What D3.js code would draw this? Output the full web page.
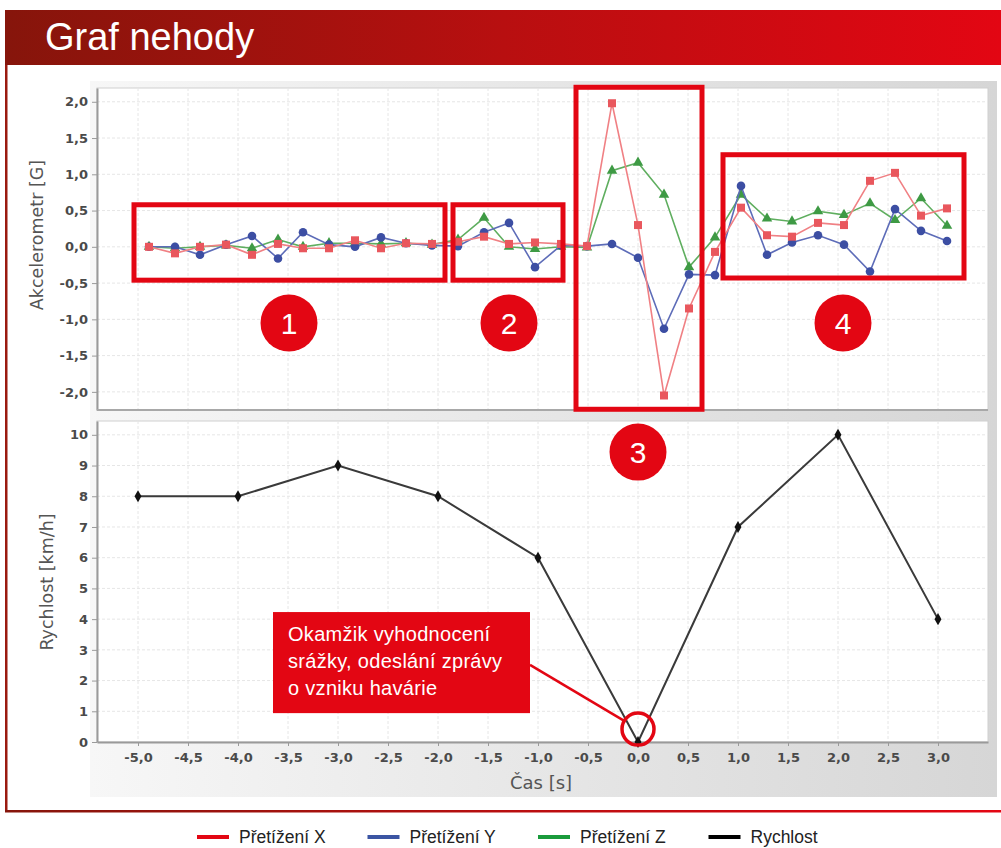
<!DOCTYPE html>
<html>
<head>
<meta charset="utf-8">
<script src="https://cdn.jsdelivr.net/npm/d3@7"></script>
<style>
body{margin:0;background:#fff;}
svg{display:block;}
</style>
</head>
<body>
<script>
// casy vzorku akcelerometru [s]
var accTime = [-4.89,-4.63,-4.38,-4.12,-3.86,-3.60,-3.35,-3.09,-2.83,-2.57,-2.32,-2.06,-1.80,-1.54,-1.29,-1.03,
    -0.77,-0.51,-0.26,0.00,0.26,0.51,0.77,1.03,1.29,1.54,1.80,2.06,2.32,2.57,2.83,3.09];
var accX = [0.00,-0.09,0.00,0.03,-0.11,0.04,-0.02,-0.02,0.09,-0.02,0.05,0.04,0.07,0.14,0.04,0.06,
    0.04,0.01,1.98,0.30,-2.05,-0.85,-0.07,0.54,0.16,0.14,0.33,0.30,0.91,1.02,0.43,0.53];
var accY = [0.00,0.00,-0.11,0.03,0.15,-0.16,0.20,0.03,0.00,0.13,0.05,0.02,0.01,0.20,0.33,-0.28,
    0.02,0.01,0.04,-0.15,-1.13,-0.38,-0.39,0.84,-0.11,0.06,0.16,0.03,-0.34,0.52,0.22,0.08];
var accZ = [0.00,-0.02,0.00,0.02,-0.02,0.10,0.00,0.05,0.05,0.04,0.05,0.03,0.10,0.40,0.00,-0.03,
    0.00,-0.01,1.05,1.16,0.72,-0.28,0.13,0.72,0.39,0.35,0.49,0.44,0.60,0.37,0.67,0.29];

var speedTime = [-5,-4,-3,-2,-1,0,1,2,3];
var speedValue = [8,8,9,8,6,0,7,10,4];

var timeTicks = [-5,-4.5,-4,-3.5,-3,-2.5,-2,-1.5,-1,-0.5,0,0.5,1,1.5,2,2.5,3];
var accTicks = [-2,-1.5,-1,-0.5,0,0.5,1,1.5,2];
var speedTicks = [0,1,2,3,4,5,6,7,8,9,10];

var legendNames = ["Přetížení X","Přetížení Y","Přetížení Z","Rychlost"];
var legendColors = ["#e30613","#3b55a3","#1a9b3c","#000000"];

// oznacene useky (v jednotkach grafu)
var zoneNames = ["1","2","3","4"];
var zoneFrom = [-5.04,-1.85,-0.62,0.85];
var zoneTo = [-1.93,-0.75,0.64,3.26];
var zoneTop = [0.58,0.58,2.20,1.27];
var zoneBottom = [-0.46,-0.46,-2.24,-0.43];
var zoneMarkX = [-3.49,-1.29,0,2.05];
var zoneMarkY = [-1.05,-1.05,-2.83,-1.05];

var noteLines = ["Okamžik vyhodnocení","srážky, odeslání zprávy","o vzniku havárie"];

var width = 1001;
var height = 848;

var svg = d3.select("body")
    .append("svg")
    .attr("width",width)
    .attr("height",height);

var defs = svg.append("defs");
var hdr = defs.append("linearGradient").attr("id","hdr");
hdr.append("stop").attr("offset","0%").attr("stop-color","#86150b");
hdr.append("stop").attr("offset","50%").attr("stop-color","#b80f10");
hdr.append("stop").attr("offset","100%").attr("stop-color","#e30613");
var pnl = defs.append("linearGradient").attr("id","pnl");
pnl.append("stop").attr("offset","0%").attr("stop-color","#f7f7f7");
pnl.append("stop").attr("offset","100%").attr("stop-color","#d6d6d6");

// hlavicka + ramecek
svg.append("rect")
    .attr("x",5).attr("y",10)
    .attr("width",width-5).attr("height",55)
    .attr("fill","url(#hdr)");
svg.append("text")
    .attr("x",45).attr("y",50)
    .attr("fill","#fff")
    .style("font-family","'Liberation Sans', Arial, sans-serif")
    .style("font-size","38px")
    .text("Graf nehody");
svg.append("rect")
    .attr("x",5).attr("y",65)
    .attr("width",2.5).attr("height",747)
    .attr("fill","#9a1a10");
svg.append("rect")
    .attr("x",5).attr("y",810)
    .attr("width",width-5).attr("height",2.5)
    .attr("fill","url(#hdr)");

// sedy panel grafu
svg.append("rect")
    .attr("x",90).attr("y",81)
    .attr("width",907).attr("height",716)
    .attr("fill","url(#pnl)");

var x = d3.scaleLinear().domain([-5.41,3.5]).range([97,988]);
var yA = d3.scaleLinear().domain([-2.25,2.19]).range([410,88]);
var yS = d3.scaleLinear().domain([0,10.45]).range([742,421]);

var loc = d3.formatLocale({decimal:",",thousands:" ",grouping:[3],currency:["",""],minus:"-"});
var f1 = loc.format(".1f");
var f0 = loc.format("d");

function plotArea(yScale,ticks){
    var g = svg.append("g");
    g.append("rect")
        .attr("x",x.range()[0]).attr("y",yScale.range()[1])
        .attr("width",x.range()[1]-x.range()[0])
        .attr("height",yScale.range()[0]-yScale.range()[1])
        .attr("fill","#fff")
        .attr("stroke","#cfcfcf");
    g.selectAll(".vg")
        .data(timeTicks)
        .enter()
        .append("line")
        .attr("x1",function(d){return x(d);})
        .attr("x2",function(d){return x(d);})
        .attr("y1",yScale.range()[1])
        .attr("y2",yScale.range()[0])
        .attr("stroke","#e6e6e6")
        .attr("stroke-dasharray","3,2");
    g.selectAll(".hg")
        .data(ticks)
        .enter()
        .append("line")
        .attr("x1",x.range()[0])
        .attr("x2",x.range()[1])
        .attr("y1",function(d){return yScale(d);})
        .attr("y2",function(d){return yScale(d);})
        .attr("stroke","#e6e6e6")
        .attr("stroke-dasharray","3,2");
    return g;
}

function styleAxis(a){
    a.select(".domain").attr("stroke","#9a9a9a").attr("stroke-width",2);
    a.selectAll(".tick line").attr("stroke","#9a9a9a");
    a.selectAll("text")
        .attr("fill","#4a4a4a")
        .style("font-family","'DejaVu Sans', sans-serif")
        .style("font-weight","bold")
        .style("font-size","13px");
}

// horni graf - akcelerometr
plotArea(yA,accTicks);
var ayA = svg.append("g")
    .attr("transform","translate(97,0)")
    .call(d3.axisLeft(yA).tickValues(accTicks).tickFormat(f1).tickSize(5).tickPadding(4).tickSizeOuter(0));
styleAxis(ayA);
svg.append("line")
    .attr("x1",97).attr("x2",988)
    .attr("y1",410).attr("y2",410)
    .attr("stroke","#a8a8a8").attr("stroke-width",2);

var series = [
    {vals:accZ, line:"#5fae5f", mark:"#3e9a44", sym:d3.symbolTriangle, size:48},
    {vals:accY, line:"#5d6cb8", mark:"#3c4ea3", sym:d3.symbolCircle, size:58},
    {vals:accX, line:"#f08084", mark:"#e9575d", sym:d3.symbolSquare, size:64}
];

series.forEach(function(s){
    var line = d3.line()
        .x(function(d,i){return x(accTime[i]);})
        .y(function(d){return yA(d);});
    svg.append("path")
        .datum(s.vals)
        .attr("d",line)
        .attr("fill","none")
        .attr("stroke",s.line)
        .attr("stroke-width",1.6);
    svg.append("g")
        .selectAll("path")
        .data(s.vals)
        .enter()
        .append("path")
        .attr("transform",function(d,i){return "translate("+x(accTime[i])+","+yA(d)+")";})
        .attr("d",d3.symbol().type(s.sym).size(s.size))
        .attr("fill",s.mark);
});

// dolni graf - rychlost
plotArea(yS,speedTicks);
var ayS = svg.append("g")
    .attr("transform","translate(97,0)")
    .call(d3.axisLeft(yS).tickValues(speedTicks).tickFormat(f0).tickSize(5).tickPadding(4).tickSizeOuter(0));
styleAxis(ayS);
var axX = svg.append("g")
    .attr("transform","translate(0,742)")
    .call(d3.axisBottom(x).tickValues(timeTicks).tickFormat(f1).tickSize(4).tickPadding(7).tickSizeOuter(0));
styleAxis(axX);

var speedLine = d3.line()
    .x(function(d,i){return x(speedTime[i]);})
    .y(function(d){return yS(d);});
svg.append("path")
    .datum(speedValue)
    .attr("d",speedLine)
    .attr("fill","none")
    .attr("stroke","#3a3a3a")
    .attr("stroke-width",2);
svg.append("g")
    .selectAll("path")
    .data(speedValue)
    .enter()
    .append("path")
    .attr("transform",function(d,i){return "translate("+x(speedTime[i])+","+yS(d)+")";})
    .attr("d",d3.symbol().type(d3.symbolDiamond).size(42))
    .attr("fill","#111");

// popisky os
var axisFont = "'DejaVu Sans', sans-serif";
svg.append("text")
    .attr("transform","translate(43,235) rotate(-90)")
    .attr("text-anchor","middle")
    .attr("fill","#555")
    .style("font-family",axisFont).style("font-size","17.5px")
    .text("Akcelerometr [G]");
svg.append("text")
    .attr("transform","translate(53,582) rotate(-90)")
    .attr("text-anchor","middle")
    .attr("fill","#555")
    .style("font-family",axisFont).style("font-size","17.5px")
    .text("Rychlost [km/h]");
svg.append("text")
    .attr("x",541).attr("y",789)
    .attr("text-anchor","middle")
    .attr("fill","#555")
    .style("font-family",axisFont).style("font-size","18px")
    .text("Čas [s]");

// oznacene useky
var red = "#e30613";
svg.append("g")
    .selectAll("rect")
    .data(zoneNames)
    .enter()
    .append("rect")
    .attr("x",function(d,i){return x(zoneFrom[i]);})
    .attr("y",function(d,i){return yA(zoneTop[i]);})
    .attr("width",function(d,i){return x(zoneTo[i])-x(zoneFrom[i]);})
    .attr("height",function(d,i){return yA(zoneBottom[i])-yA(zoneTop[i]);})
    .attr("fill","none")
    .attr("stroke",red)
    .attr("stroke-width",5);

var marks = svg.append("g")
    .selectAll("g")
    .data(zoneNames)
    .enter()
    .append("g")
    .attr("transform",function(d,i){return "translate("+x(zoneMarkX[i])+","+yA(zoneMarkY[i])+")";});
marks.append("circle")
    .attr("r",28.5)
    .attr("fill",red);
marks.append("text")
    .attr("text-anchor","middle")
    .attr("dy","0.36em")
    .attr("fill","#fff")
    .style("font-family","'Liberation Sans', Arial, sans-serif")
    .style("font-size","30px")
    .text(function(d){return d;});

// popiska okamziku srazky
var noteBox = {x0:-3.65, x1:-1.08, top:4.23, bottom:0.94};
var ring = {t:0, v:0.42};
var nx = x(noteBox.x1), ny = yS(2.51);
var cx = x(ring.t), cy = yS(ring.v);
var ang = Math.atan2(ny-cy,nx-cx);
svg.append("line")
    .attr("x1",nx).attr("y1",ny)
    .attr("x2",cx+16*Math.cos(ang)).attr("y2",cy+16*Math.sin(ang))
    .attr("stroke",red)
    .attr("stroke-width",2.5);
svg.append("circle")
    .attr("cx",cx).attr("cy",cy)
    .attr("r",16)
    .attr("fill","none")
    .attr("stroke",red)
    .attr("stroke-width",3.5);
svg.append("rect")
    .attr("x",x(noteBox.x0)).attr("y",yS(noteBox.top))
    .attr("width",x(noteBox.x1)-x(noteBox.x0))
    .attr("height",yS(noteBox.bottom)-yS(noteBox.top))
    .attr("fill",red);
svg.append("g")
    .selectAll("text")
    .data(noteLines)
    .enter()
    .append("text")
    .attr("x",x(noteBox.x0)+15)
    .attr("y",function(d,i){return yS(noteBox.top)+29+i*27;})
    .attr("fill","#fff")
    .style("font-family","'Liberation Sans', Arial, sans-serif")
    .style("font-size","20px")
    .style("letter-spacing","0.3px")
    .text(function(d){return d;});

// legenda
var leg = svg.append("g")
    .selectAll("g")
    .data(legendNames)
    .enter()
    .append("g")
    .attr("transform",function(d,i){return "translate("+(197+i*170.5)+",837)";});
leg.append("line")
    .attr("x1",0).attr("x2",32)
    .attr("stroke",function(d,i){return legendColors[i];})
    .attr("stroke-width",4);
leg.append("text")
    .attr("x",42).attr("y",6)
    .attr("fill","#222")
    .style("font-family","'Liberation Sans', Arial, sans-serif")
    .style("font-size","17.5px")
    .text(function(d){return d;});
</script>
</body>
</html>
